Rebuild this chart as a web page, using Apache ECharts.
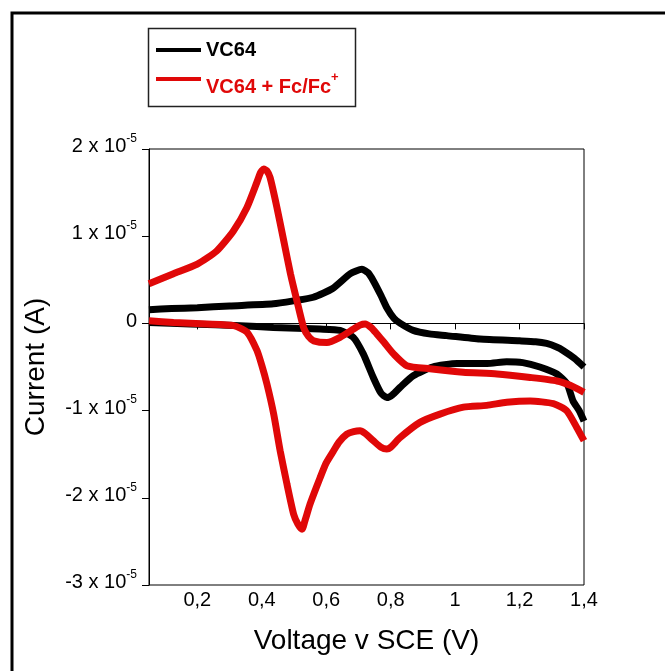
<!DOCTYPE html>
<html>
<head>
<meta charset="utf-8">
<title>VC64 cyclic voltammetry</title>
<script src="https://cdn.jsdelivr.net/npm/echarts@6/dist/echarts.min.js"></script>
<style>
  html, body { margin: 0; padding: 0; background: #fff; }
  #chart { width: 665px; height: 671px; }
</style>
</head>
<body>
<div id="chart"></div>
<script>
// current values are in units of 1e-5 A (axis labels show "x 10^-5")
const seriesNames = ['VC64', 'VC64 + Fc/Fc+'];
const xTicks = [0.2, 0.4, 0.6, 0.8, 1, 1.2, 1.4];

// VC64, forward scan (0.05 -> 1.4 V)
const vc64FwdV = [0.05, 0.12, 0.2, 0.3, 0.436, 0.5, 0.56, 0.62, 0.675, 0.711, 0.73, 0.746, 0.77, 0.788, 0.81, 0.83, 0.87, 0.92, 0.974, 1.077, 1.2, 1.25, 1.284, 1.315, 1.335, 1.37, 1.4];
const vc64FwdI = [0.157, 0.17, 0.18, 0.2, 0.225, 0.26, 0.30, 0.40, 0.57, 0.62, 0.58, 0.49, 0.32, 0.18, 0.06, 0.0, -0.08, -0.12, -0.14, -0.18, -0.2, -0.21, -0.23, -0.27, -0.31, -0.4, -0.5];
// VC64, reverse scan (1.4 -> 0.05 V)
const vc64RevV = [1.4, 1.385, 1.366, 1.347, 1.316, 1.263, 1.21, 1.16, 1.099, 1.04, 1.006, 0.93, 0.87, 0.83, 0.805, 0.788, 0.77, 0.746, 0.715, 0.684, 0.643, 0.581, 0.436, 0.333, 0.178, 0.05];
const vc64RevI = [-1.12, -1.0, -0.89, -0.69, -0.58, -0.50, -0.45, -0.44, -0.46, -0.46, -0.46, -0.50, -0.6, -0.73, -0.82, -0.85, -0.80, -0.62, -0.35, -0.16, -0.08, -0.065, -0.046, -0.026, -0.007, 0.01];

// VC64 + Fc/Fc+, forward scan
const fcFwdV = [0.05, 0.126, 0.2, 0.26, 0.312, 0.354, 0.385, 0.396, 0.406, 0.416, 0.426, 0.447, 0.468, 0.489, 0.509, 0.53, 0.545, 0.561, 0.602, 0.643, 0.685, 0.705, 0.721, 0.74, 0.757, 0.78, 0.809, 0.85, 0.922, 1.025, 1.13, 1.233, 1.316, 1.357, 1.4];
const fcFwdI = [0.455, 0.57, 0.68, 0.83, 1.06, 1.33, 1.62, 1.73, 1.77, 1.75, 1.67, 1.33, 0.95, 0.57, 0.26, -0.05, -0.15, -0.2, -0.22, -0.16, -0.064, -0.02, -0.007, -0.05, -0.12, -0.22, -0.35, -0.485, -0.52, -0.56, -0.58, -0.62, -0.66, -0.71, -0.79];
// VC64 + Fc/Fc+, reverse scan
const fcRevV = [1.4, 1.377, 1.346, 1.305, 1.233, 1.16, 1.098, 1.026, 0.953, 0.891, 0.829, 0.8, 0.788, 0.77, 0.746, 0.72, 0.705, 0.685, 0.664, 0.64, 0.623, 0.6, 0.581, 0.55, 0.535, 0.525, 0.512, 0.499, 0.478, 0.457, 0.437, 0.416, 0.4, 0.385, 0.354, 0.313, 0.23, 0.126, 0.05];
const fcRevI = [-1.345, -1.19, -1.0, -0.92, -0.89, -0.905, -0.94, -0.96, -1.04, -1.135, -1.31, -1.42, -1.44, -1.42, -1.345, -1.26, -1.23, -1.24, -1.27, -1.36, -1.46, -1.6, -1.77, -2.07, -2.25, -2.36, -2.3, -2.19, -1.84, -1.46, -1.04, -0.695, -0.48, -0.31, -0.10, -0.026, -0.007, 0.01, 0.03];

const FONT = 'Arial, "Liberation Sans", sans-serif';
const RED = '#e00808';

function pairs(xs, ys) {
  return xs.map((x, i) => [x, ys[i]]);
}
// forward + gap + reverse, so the two branches are not joined at 1.4 V
function loop(fv, fi, rv, ri) {
  return pairs(fv, fi).concat([['-', '-']], pairs(rv, ri));
}

const chart = echarts.init(document.getElementById('chart'));

const option = {
  backgroundColor: '#ffffff',
  animation: false,
  textStyle: { fontFamily: FONT },
  graphic: [
    // outer frame (right/bottom edges fall outside the picture)
    { type: 'rect', shape: { x: 12, y: 13, width: 720, height: 720 }, style: { fill: 'none', stroke: '#000', lineWidth: 3 }, silent: true },
    // legend box
    { type: 'rect', shape: { x: 148.5, y: 28.5, width: 207, height: 78 }, style: { fill: 'none', stroke: '#222', lineWidth: 1.5 }, silent: true }
  ],
  legend: {
    orient: 'vertical',
    left: 151,
    top: 35,
    itemWidth: 45,
    itemHeight: 4,
    itemGap: 11,
    icon: 'rect',
    data: seriesNames,
    formatter: function (name) {
      return name === seriesNames[0] ? '{k|VC64}' : '{r|VC64 + Fc/Fc}{rs|+}';
    },
    textStyle: {
      rich: {
        k: { fontFamily: FONT, fontSize: 20, fontWeight: 'bold', color: '#000' },
        r: { fontFamily: FONT, fontSize: 20, fontWeight: 'bold', color: RED, padding: [16, 0, 0, 0], verticalAlign: 'bottom' },
        rs: { fontFamily: FONT, fontSize: 13, fontWeight: 'bold', color: RED, padding: [10, 0, 0, 0], verticalAlign: 'top' }
      }
    }
  },
  grid: {
    left: 149,
    top: 149,
    right: 81,
    bottom: 86,
    show: true,
    borderColor: '#000',
    borderWidth: 1,
    containLabel: false
  },
  xAxis: {
    type: 'value',
    min: 0.05,
    max: 1.4,
    name: 'Voltage v SCE (V)',
    nameLocation: 'middle',
    nameGap: 42,
    nameTextStyle: { fontFamily: FONT, fontSize: 28, color: '#000' },
    axisLine: { lineStyle: { color: '#000', width: 1 } },
    axisTick: { customValues: xTicks, length: 6, lineStyle: { color: '#000' } },
    axisLabel: {
      customValues: xTicks,
      margin: 5,
      fontFamily: FONT,
      fontSize: 20,
      color: '#000',
      formatter: function (v) { return String(+v.toFixed(1)).replace('.', ','); }
    },
    splitLine: { show: false }
  },
  yAxis: {
    type: 'value',
    min: -3,
    max: 2,
    interval: 1,
    name: 'Current (A)',
    nameLocation: 'middle',
    nameGap: 99,
    nameTextStyle: { fontFamily: FONT, fontSize: 28, color: '#000' },
    axisLine: { show: true, lineStyle: { color: '#000', width: 1 } },
    axisTick: { length: 7, lineStyle: { color: '#000' } },
    axisLabel: {
      margin: 12,
      color: '#000',
      formatter: function (v) {
        if (v === 0) return '{z|0}';
        return '{n|' + v + ' x 10}{s|-5}';
      },
      rich: {
        z: { fontFamily: FONT, fontSize: 20, color: '#000', padding: [0, 0, 3, 0] },
        n: { fontFamily: FONT, fontSize: 20, color: '#000', padding: [0, 0, 9, 0], verticalAlign: 'bottom' },
        s: { fontFamily: FONT, fontSize: 12, color: '#000', padding: [0, 0, 21, 0], verticalAlign: 'bottom' }
      }
    },
    splitLine: { show: false }
  },
  series: [
    {
      name: seriesNames[0],
      type: 'line',
      data: loop(vc64FwdV, vc64FwdI, vc64RevV, vc64RevI),
      showSymbol: false,
      smooth: 0.2,
      connectNulls: false,
      color: '#000',
      lineStyle: { color: '#000', width: 7 }
    },
    {
      name: seriesNames[1],
      type: 'line',
      data: loop(fcFwdV, fcFwdI, fcRevV, fcRevI),
      showSymbol: false,
      smooth: 0.2,
      connectNulls: false,
      color: RED,
      lineStyle: { color: RED, width: 7 }
    }
  ]
};

chart.setOption(option);
</script>
</body>
</html>
